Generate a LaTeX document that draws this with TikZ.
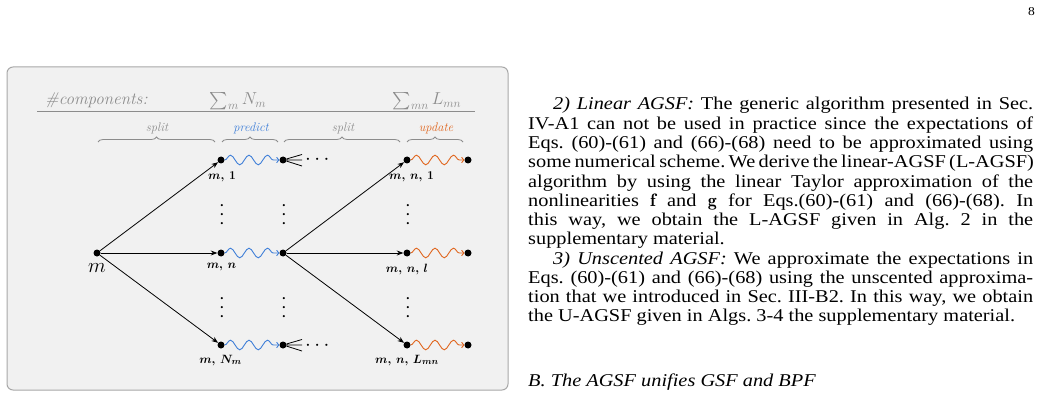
\documentclass[tikz,border=0pt]{standalone}
\usepackage{amsmath}
\usepackage{fontspec}
\usetikzlibrary{decorations.pathmorphing,decorations.pathreplacing,arrows.meta}
\newfontfamily\timesfont{Liberation Serif}[FakeStretch=1.13]
\definecolor{boxfill}{HTML}{F1F1F1}
\definecolor{boxline}{HTML}{A8A8A8}
\definecolor{hdr}{HTML}{8C8C8C}
\definecolor{pblue}{HTML}{3F7FD8}
\definecolor{uorange}{HTML}{E0661F}
\tikzset{
  dot/.style={circle,fill=black,inner sep=0pt,minimum size=7pt},
  hdrtext/.style={text=hdr,inner sep=0pt,anchor=base,font=\fontsize{17}{20}\selectfont},
  bracelab/.style={inner sep=0pt,anchor=base,font=\fontsize{12.5}{14}\selectfont\itshape},
  bracestyle/.style={draw=hdr,line width=0.8pt,decorate,decoration={brace,amplitude=5pt}},
  lab/.style={inner sep=0pt,anchor=base,font=\boldmath\fontsize{12.5}{15}\selectfont},
  arr/.style={draw=black,line width=0.8pt,-{Stealth[length=6.5pt,width=5pt]}},
  wave/.style={line width=0.9pt,decorate,decoration={snake,segment length=18.5pt,amplitude=4.8pt,post length=2pt},-{To[length=3pt,width=6pt]}},
  vd/.style={inner sep=0pt,rotate=90,anchor=mid,font=\fontsize{20.5}{24}\selectfont},
  body/.style={inner sep=0pt,anchor=base west,font=\timesfont\fontsize{18}{19}\selectfont\frenchspacing},
}
\begin{document}
\begin{tikzpicture}[x=1pt,y=-1pt]
\useasboundingbox (0,0) rectangle (1043,414);
% figure box
\draw[boxline,fill=boxfill,line width=1pt,rounded corners=6pt] (7,67) rectangle (508,390);
% header
\node[hdrtext,anchor=base west] (hcomp) at (45,105) {\textit{\#components:}};
\node[hdrtext] (hN) at (238,105) {$\sum_m N_m$};
\node[hdrtext] (hL) at (427,105) {$\sum_{mn} L_{mn}$};
\draw[hdr,line width=1.2pt] (37,111.5) -- (475,111.5);
% braces
\draw[bracestyle] (98,142) -- (215,142);
\draw[bracestyle] (222,142) -- (278,142);
\draw[bracestyle] (284,142) -- (400,142);
\draw[bracestyle] (407,142) -- (463,142);
\node[bracelab,text=hdr] (ls1) at (157,132) {split};
\node[bracelab,text=pblue] (lp) at (251,132) {predict};
\node[bracelab,text=hdr] (ls2) at (343,132) {split};
\node[bracelab,text=uorange] (lu) at (436,132) {update};
% dots
\node[dot] (m) at (97,253) {};
\node[dot] (a1) at (221,160) {};
\node[dot] (an) at (221,253) {};
\node[dot] (aN) at (221,345) {};
\node[dot] (b1) at (283,160) {};
\node[dot] (bn) at (283,253) {};
\node[dot] (bN) at (283,345) {};
\node[dot] (c1) at (407,160) {};
\node[dot] (cn) at (407,253) {};
\node[dot] (cN) at (407,345) {};
\node[dot] (d1) at (468,160) {};
\node[dot] (dn) at (468,253) {};
\node[dot] (dN) at (468,345) {};
% labels
\node[inner sep=0pt,font=\fontsize{21}{24}\selectfont] (lm) at (97,268) {$m$};
\node[lab] (la1) at (222,179.5) {$m,\,1$};
\node[lab] (lan) at (221.5,268.5) {$m,\,n$};
\node[lab] (laN) at (220.5,363) {$m,\,N_m$};
\node[lab] (lc1) at (411.5,179.5) {$m,\,n,\,1$};
\node[lab] (lcn) at (407,272) {$m,\,n,\,l$};
\node[lab] (lcN) at (407,363) {$m,\,n,\,L_{mn}$};
% split arrows
\draw[arr] (m) -- (a1);
\draw[arr] (m) -- (an);
\draw[arr] (m) -- (aN);
\draw[arr] (bn) -- (c1);
\draw[arr] (bn) -- (cn);
\draw[arr] (bn) -- (cN);
% waves
\draw[wave,pblue] (a1) -- (b1);
\draw[wave,pblue] (an) -- (bn);
\draw[wave,pblue] (aN) -- (bN);
\draw[wave,uorange] (c1) -- (d1);
\draw[wave,uorange] (cn) -- (dn);
\draw[wave,uorange] (cN) -- (dN);
% fans
\coordinate (f1a) at (302,154.5);
\coordinate (f1b) at (302,160);
\coordinate (f1c) at (302,166);
\coordinate (f2a) at (302,339.5);
\coordinate (f2b) at (302,345);
\coordinate (f2c) at (302,351);
\draw[line width=0.8pt] (b1) -- (f1a) (b1) -- (f1b) (b1) -- (f1c);
\draw[line width=0.8pt] (bN) -- (f2a) (bN) -- (f2b) (bN) -- (f2c);
\node[inner sep=0pt,anchor=base,font=\fontsize{21}{24}\selectfont] (cd1) at (319,165) {$\cdots$};
\node[inner sep=0pt,anchor=base,font=\fontsize{21}{24}\selectfont] (cd2) at (319,350) {$\cdots$};
% vertical dots
\node[vd] (v1) at (225,213) {$\cdots$};
\node[vd] (v2) at (287,213) {$\cdots$};
\node[vd] (v3) at (411,213) {$\cdots$};
\node[vd] (v4) at (225,306) {$\cdots$};
\node[vd] (v5) at (287,306) {$\cdots$};
\node[vd] (v6) at (411,306) {$\cdots$};
% page number
\node[inner sep=0pt,anchor=base east,font=\timesfont\fontsize{12}{14}\selectfont] (pg) at (1035,16) {8};
% text column
\node[body] (t0) at (553,110) {\makebox[480pt][s]{\textit{2) Linear AGSF:} The generic algorithm presented in Sec.}};
\node[body] (t1) at (528,129.27) {\makebox[505pt][s]{IV-A1 can not be used in practice since the expectations of}};
\node[body] (t2) at (528,148.54) {\makebox[505pt][s]{Eqs. (60)-(61) and (66)-(68) need to be approximated using}};
\node[body] (t3) at (528,167.81) {\makebox[505pt][s]{some numerical scheme. We derive the linear-AGSF (L-AGSF)}};
\node[body] (t4) at (528,187.08) {\makebox[505pt][s]{algorithm by using the linear Taylor approximation of the}};
\node[body] (t5) at (528,206.35) {\makebox[505pt][s]{nonlinearities $\mathbf{f}$ and $\mathbf{g}$ for Eqs.(60)-(61) and (66)-(68). In}};
\node[body] (t6) at (528,225.62) {\makebox[505pt][s]{this way, we obtain the L-AGSF given in Alg. 2 in the}};
\node[body] (t7) at (528,244.89) {supplementary material.};
\node[body] (t8) at (553,264.16) {\makebox[480pt][s]{\textit{3) Unscented AGSF:} We approximate the expectations in}};
\node[body] (t9) at (528,283.43) {\makebox[505pt][s]{Eqs. (60)-(61) and (66)-(68) using the unscented approxima-}};
\node[body] (t10) at (528,302.7) {\makebox[505pt][s]{tion that we introduced in Sec. III-B2. In this way, we obtain}};
\node[body] (t11) at (528,321.97) {the U-AGSF given in Algs. 3-4 the supplementary material.};
\node[body] (t12) at (528,386) {\textit{B. The AGSF unifies GSF and BPF}};
\end{tikzpicture}
\end{document}
